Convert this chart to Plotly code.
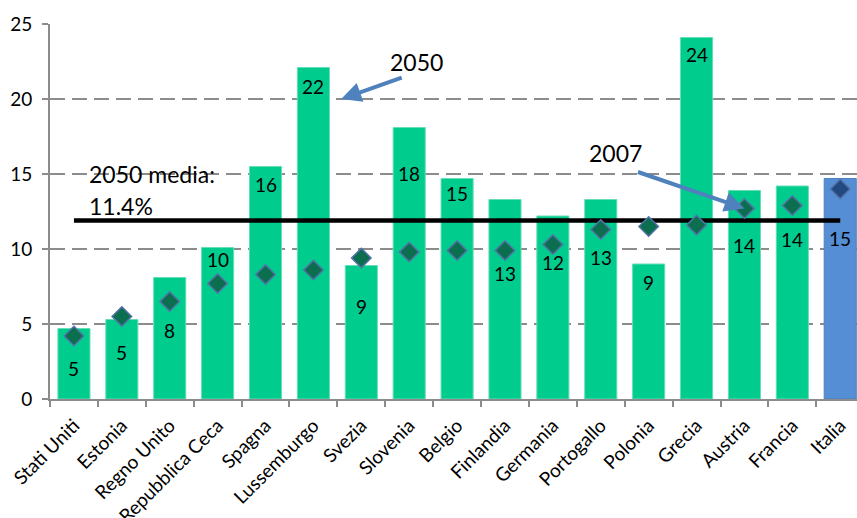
import plotly.graph_objects as go

countries = ["Stati Uniti", "Estonia", "Regno Unito", "Repubblica Ceca", "Spagna",
             "Lussemburgo", "Svezia", "Slovenia", "Belgio", "Finlandia", "Germania",
             "Portogallo", "Polonia", "Grecia", "Austria", "Francia", "Italia"]
val_2050 = [4.7, 5.3, 8.1, 10.1, 15.5, 22.1, 8.9, 18.1, 14.7, 13.3, 12.2, 13.3, 9.0, 24.1, 13.9, 14.2, 14.7]
val_2007 = [4.2, 5.5, 6.5, 7.7, 8.3, 8.6, 9.4, 9.8, 9.9, 9.9, 10.3, 11.3, 11.5, 11.6, 12.7, 12.9, 14.0]
media_2050 = 11.9
media_label = "11.4%"
y_ticks = [0, 5, 10, 15, 20, 25]

# label placement (pixel shift from bar top), layout only
label_shift = [-40, -33, -53, -12, -18, -19, -41, -46, -15, -74, -46, -58, -18, -17, -55, -53, -60]

FONT = "Lato"
green = "#00CC8E"
blue = "#558ED5"
bar_colors = [blue if c == "Italia" else green for c in countries]
bar_lines = ["#4F81BD" if c == "Italia" else "#66DDB4" for c in countries]
dia_colors = ["#234A80" if c == "Italia" else "#0B6E4F" for c in countries]

fig = go.Figure()
fig.add_trace(go.Bar(
    x=countries, y=val_2050, marker=dict(color=bar_colors, line=dict(color=bar_lines, width=1)),
    width=0.67, showlegend=False, hoverinfo="skip"))
fig.add_trace(go.Scatter(
    x=countries, y=[media_2050] * len(countries), mode="lines",
    line=dict(color="black", width=4.5), showlegend=False))
fig.add_trace(go.Scatter(
    x=countries, y=val_2007, mode="markers",
    marker=dict(symbol="diamond", size=15, color=dia_colors,
                line=dict(color="#5572A8", width=1.5)),
    showlegend=False))

annotations = []
for i, (c, v) in enumerate(zip(countries, val_2050)):
    annotations.append(dict(x=c, y=v, text=str(round(v)), showarrow=False,
                            yshift=label_shift[i], yanchor="middle",
                            font=dict(family=FONT, size=19, color="black")))

# arrows
annotations.append(dict(x=5.58, y=20, xref="x", yref="y", text="", showarrow=True,
                        ax=62, ay=-22, arrowhead=2, arrowsize=1, arrowwidth=4,
                        arrowcolor="#4F81BD"))
annotations.append(dict(x=7.15, y=22.5, xref="x", yref="y", text="2050", showarrow=False,
                        font=dict(family=FONT, size=23, color="black")))
annotations.append(dict(x=14, y=val_2007[14], xref="x", yref="y", text="", showarrow=True,
                        ax=-108, ay=-37, arrowhead=2, arrowsize=1, arrowwidth=4,
                        arrowcolor="#4F81BD", standoff=0))
annotations.append(dict(x=11.3, y=16.4, xref="x", yref="y", text="2007", showarrow=False,
                        font=dict(family=FONT, size=23, color="black")))
annotations.append(dict(x=0.28, y=15.0, xref="x", yref="y", text="2050 media:", showarrow=False,
                        xanchor="left", font=dict(family=FONT, size=23, color="black")))
annotations.append(dict(x=0.28, y=12.87, xref="x", yref="y", text=media_label, showarrow=False,
                        xanchor="left", font=dict(family=FONT, size=23, color="black")))

fig.update_layout(
    width=857, height=518,
    margin=dict(l=50, r=0, t=24, b=119, autoexpand=False),
    paper_bgcolor="white", plot_bgcolor="white",
    bargap=0.33,
    annotations=annotations,
    xaxis=dict(range=[-0.5, 16.35], tickangle=-45, showline=True, linecolor="#8C8C8C",
               linewidth=2, ticks="outside", tickson="boundaries", ticklen=6,
               tickcolor="#8C8C8C", tickwidth=1.5, automargin=False, ticklabelstandoff=6,
               tickfont=dict(family=FONT, size=19, color="black"), showgrid=False),
    yaxis=dict(range=[0, 25], tickvals=y_ticks, showline=True, linecolor="#8C8C8C", linewidth=2,
               ticks="outside", ticklen=6, tickcolor="#8C8C8C", tickwidth=1.5,
               gridcolor="#8C8C8C", griddash="15px,7px", gridwidth=1.5, zeroline=False,
               automargin=False, ticklabelstandoff=6,
               tickfont=dict(family=FONT, size=19, color="black")),
)
fig.write_html("out.html", config={"displayModeBar": False},
               post_script="document.body.style.margin='0';")
